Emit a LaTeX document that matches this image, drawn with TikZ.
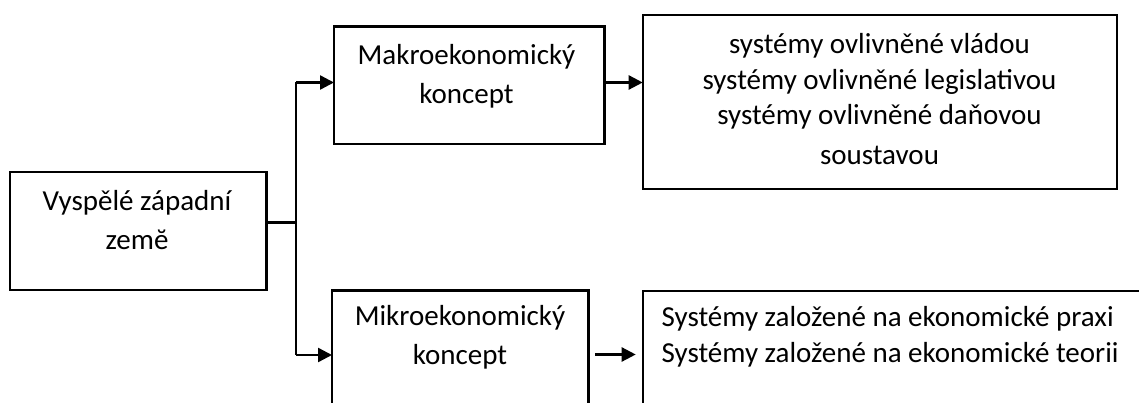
\documentclass[tikz,border=0pt]{standalone}
\usepackage{fontspec}
\setmainfont{Carlito}
\usetikzlibrary{arrows.meta}
\newcommand{\tsrt}{\rule{0pt}{22pt}}
\begin{document}
\begin{tikzpicture}[x=1pt,y=-1pt,
  box/.style={draw=black, line width=2.2pt, rectangle, inner sep=0pt, outer sep=0pt, anchor=north west},
  txt/.style={inner sep=0pt, outer sep=0pt, font=\fontsize{29}{39}\selectfont, text=black},
  conn/.style={draw=black, line width=2.4pt},
  arr/.style={conn, -{Triangle[length=14pt,width=14pt]}}]
\useasboundingbox (0,0) rectangle (1139,403);
\clip (0,0) rectangle (1139,403);
% boxes
\node[box, minimum width=256.5pt, minimum height=118pt] (L) at (10,172) {};
\node[box, minimum width=270.5pt, minimum height=117.5pt] (M1) at (334,26.5) {};
\node[box, minimum width=256.5pt, minimum height=160pt] (M2) at (332,290.5) {};
\node[box, minimum width=474.3pt, minimum height=174.3pt] (R1) at (642.7,14.7) {};
\node[box, minimum width=520pt, minimum height=160pt] (R2) at (642.7,291) {};
% texts
\node[txt, anchor=north, align=center] (Lt) at (137,188.5) {\tsrt Vyspělé západní\\zemĕ};
\node[txt, anchor=north, align=center] (M1t) at (466.5,42.3) {\tsrt Makroekonomický\\koncept};
\node[txt, anchor=north, align=center] (M2t) at (460,303.5) {\tsrt Mikroekonomický\\koncept};
\node[txt, anchor=north, align=center, font=\fontsize{29}{35.5}\selectfont] (R1t) at (879.5,32) {\tsrt systémy ovlivněné vládou\\systémy ovlivněné legislativou\\systémy ovlivněné daňovou\\[4.5pt]soustavou};
\node[txt, anchor=north west, align=left, font=\fontsize{29}{36.7}\selectfont] (R2t) at (661.7,304) {\tsrt Systémy založené na ekonomické praxi\\Systémy založené na ekonomické teorii};
% connectors
\coordinate (J) at (296,222.7);
\coordinate (Ttop) at (296,82.5);
\coordinate (Tbot) at (296,355);
\coordinate (A2) at (595,354.5);
\draw[conn] (J -| L.east) -- (J);
\draw[conn] (Ttop) -- (Tbot);
\draw[arr] (Ttop) -- (Ttop -| M1.west);
\draw[arr] (Tbot) -- (Tbot -| M2.west);
\draw[arr] (Ttop -| M1.east) -- (Ttop -| R1.west);
\draw[arr, shorten >=7pt] (A2) -- (A2 -| R2.west);
\end{tikzpicture}
\end{document}
